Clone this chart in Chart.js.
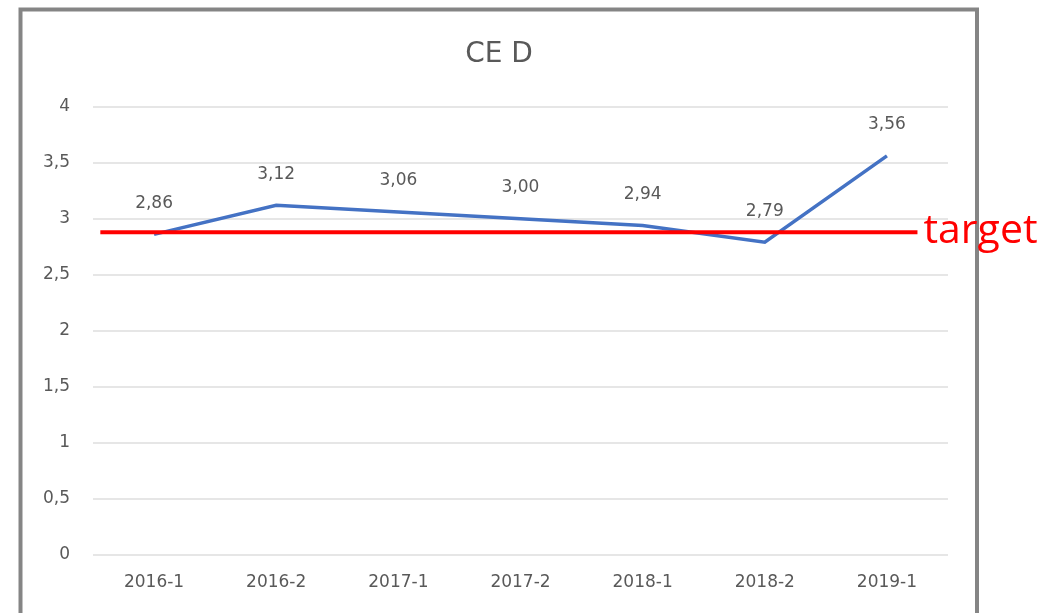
<!DOCTYPE html>
<html>
<head>
<meta charset="utf-8">
<script src="https://cdn.jsdelivr.net/npm/chart.js@4.4.1/dist/chart.umd.min.js"></script>
<style>
  html, body { margin: 0; padding: 0; background: #fff; }
  #wrap { width: 1059px; height: 613px; position: relative; }
</style>
</head>
<body>
<div id="wrap"><canvas id="myChart" width="1059" height="613"></canvas></div>
<script>
const labels = ['2016-1', '2016-2', '2017-1', '2017-2', '2018-1', '2018-2', '2019-1'];
const values = [2.86, 3.12, 3.06, 3.00, 2.94, 2.79, 3.56];
const yTicks = [0, 0.5, 1, 1.5, 2, 2.5, 3, 3.5, 4];
const targetValue = 2.88;
const targetSpan = [-0.44, 6.25]; // in category units, drawn a bit wider than the points

const comma = (v, d) => (d == null ? String(v) : v.toFixed(d)).replace('.', ',');

// frame, data labels and the "target" note
const extras = {
    id: 'extras',
    beforeDraw(chart) {
        const c = chart.ctx;
        c.save();
        c.fillStyle = '#fff';
        c.fillRect(0, 0, chart.width, chart.height);
        c.strokeStyle = '#858585';
        c.lineWidth = 4;
        c.strokeRect(20.5, 9.5, 956.5, 640);
        c.restore();
    },
    afterDatasetsDraw(chart) {
        const c = chart.ctx;
        const meta = chart.getDatasetMeta(1);
        c.save();
        c.font = '17px "DejaVu Sans"';
        c.fillStyle = '#595959';
        c.textAlign = 'center';
        c.textBaseline = 'middle';
        meta.data.forEach((pt, i) => {
            c.fillText(comma(values[i], 2), pt.x, pt.y - 31);
        });
        c.restore();
    },
    afterDraw(chart) {
        const c = chart.ctx;
        const y = chart.scales.y.getPixelForValue(targetValue);
        const x = chart.scales.xt.getPixelForValue(targetSpan[1]);
        c.save();
        c.font = '41px "Open Sans"';
        c.fillStyle = '#ff0000';
        c.textAlign = 'left';
        c.textBaseline = 'alphabetic';
        c.fillText('target', x + 6, y + 11);
        c.restore();
    }
};

new Chart(document.getElementById('myChart'), {
    type: 'line',
    data: {
        labels: labels,
        datasets: [{
            label: 'target',
            data: targetSpan.map(x => ({ x: x, y: targetValue })),
            xAxisID: 'xt',
            borderColor: '#ff0000',
            borderWidth: 4,
            pointRadius: 0,
            order: 0
        }, {
            label: 'CE D',
            data: values,
            xAxisID: 'x',
            borderColor: '#4472c4',
            borderWidth: 3.5,
            pointRadius: 0,
            tension: 0,
            order: 1
        }]
    },
    options: {
        responsive: false,
        animation: false,
        layout: { padding: { left: 0, right: 61, top: 0, bottom: 8 } },
        plugins: {
            legend: { display: false },
            tooltip: { enabled: false },
            title: {
                display: true,
                text: 'CE D',
                color: '#595959',
                font: { family: 'DejaVu Sans', size: 28, weight: 'normal' },
                padding: { top: 38, bottom: 35 }
            }
        },
        scales: {
            x: {
                type: 'category',
                offset: true,
                grid: { display: false },
                border: { display: false },
                ticks: {
                    color: '#595959',
                    font: { family: 'DejaVu Sans', size: 17 },
                    padding: 9,
                    maxRotation: 0
                },
                afterFit(scale) { scale.height = 50; }
            },
            xt: {
                type: 'linear',
                display: false,
                min: -0.5,
                max: labels.length - 0.5
            },
            y: {
                min: yTicks[0],
                max: yTicks[yTicks.length - 1],
                afterBuildTicks(scale) { scale.ticks = yTicks.map(v => ({ value: v })); },
                grid: { color: '#e6e6e6', lineWidth: 2, drawTicks: false },
                border: { display: false },
                ticks: {
                    color: '#595959',
                    font: { family: 'DejaVu Sans', size: 17 },
                    padding: 23,
                    callback: v => comma(v)
                },
                afterFit(scale) { scale.width = 93; }
            },
            // empty right-hand spacer so the title stays centred in the frame
            yr: {
                position: 'right',
                grid: { display: false },
                border: { display: false },
                ticks: { display: false },
                afterFit(scale) { scale.width = 50; }
            }
        }
    },
    plugins: [extras]
});
</script>
</body>
</html>
